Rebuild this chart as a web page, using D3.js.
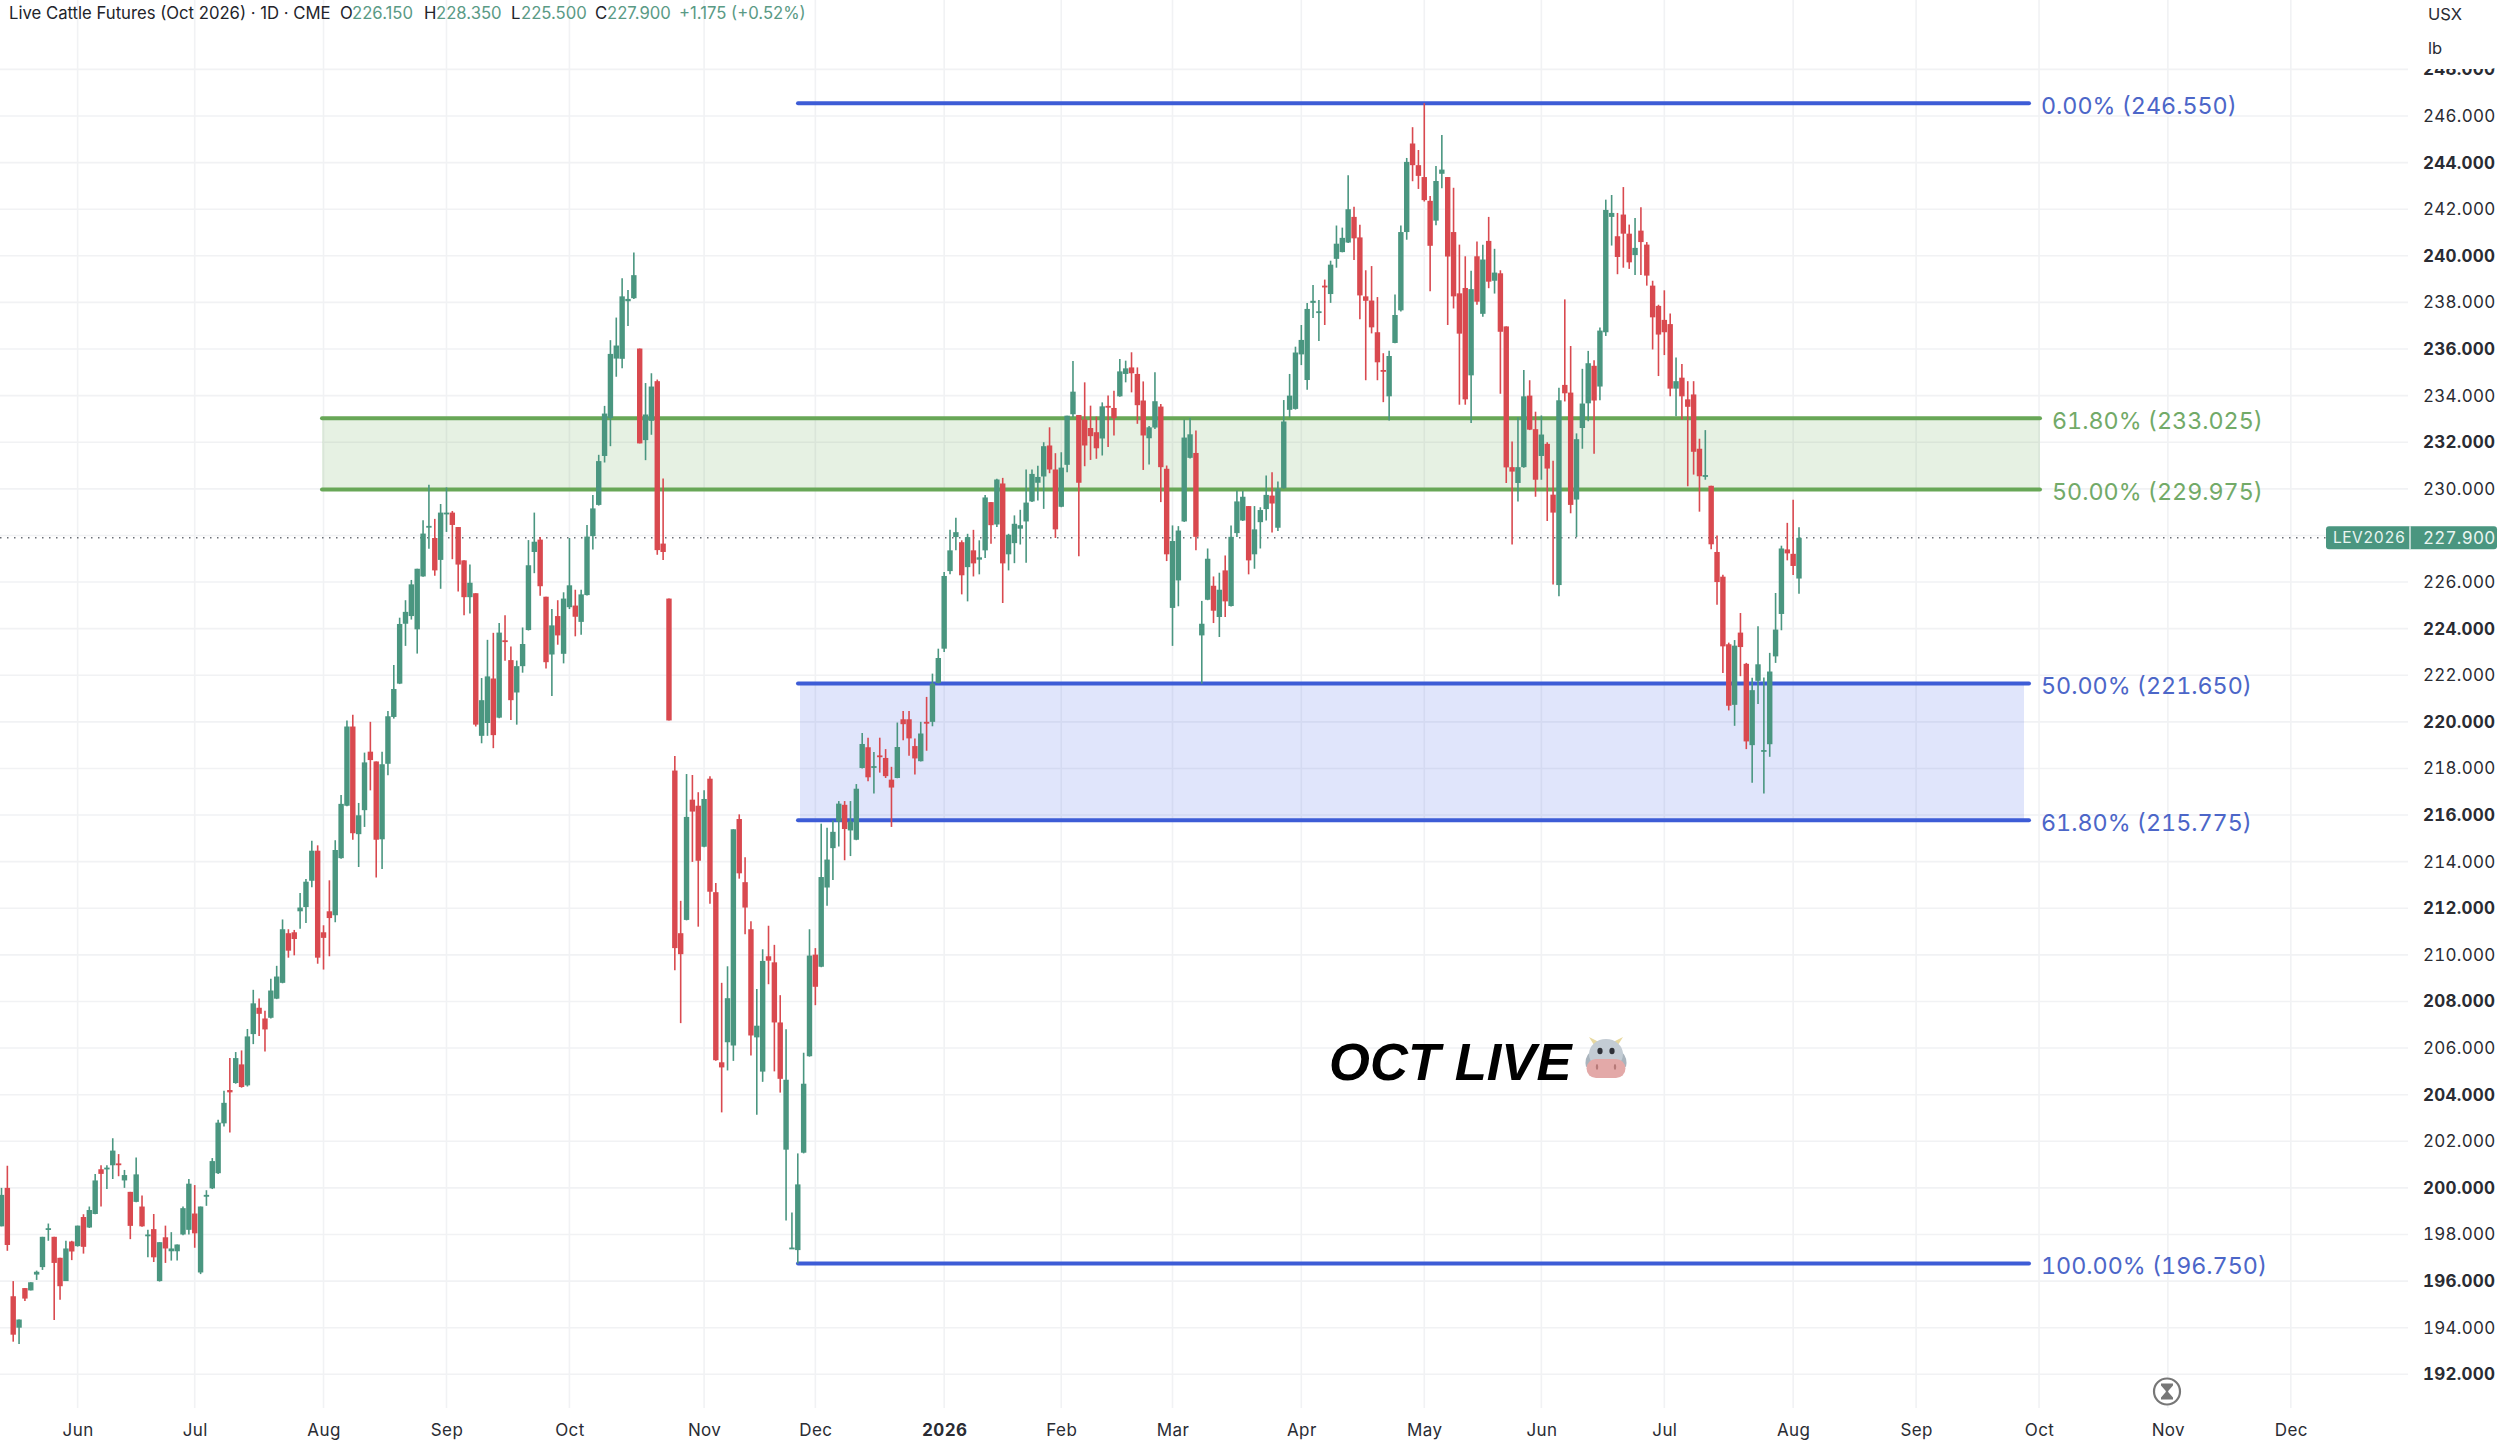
<!DOCTYPE html>
<html>
	<head>
		<meta charset="utf-8">
		<title>Live Cattle Futures (Oct 2026)</title>
		<script src="https://d3js.org/d3.v7.min.js"></script>
		<style>
			html, body { margin: 0; background: #fff; }
			svg { display: block; font-family: Inter, "Noto Sans", sans-serif; font-variant-numeric: tabular-nums; }
			.grid line { stroke: #f1f2f4; stroke-width: 1.6px; }
			.axis text { fill: #2a2c33; }
			.head { font-variant-numeric: normal; }
		</style>
	</head>
	<body>
		<svg width="2500" height="1441"></svg>

		<script type="text/javascript">
			// daily candles, oldest first
			var opens = [
				198.35,200,195.35,194,195.7,195.6,196.28,196.6,198.2,197.9,
				197,196,197.7,197.5,198.75,198.3,198.88,200.8,200.83,200.97,
				201.05,200.32,199.83,199.4,199.2,197.93,198.23,196,197.88,197.28,
				197.28,198,198.2,198.9,196.37,199.62,199.98,200.63,202.77,204.2,
				204.5,205.3,204.4,206.6,207.73,207.27,207.3,208.12,208.8,210.93,
				210.97,211.87,212.05,213.18,214.47,210.97,211.87,211.7,214.15,216.4,
				219.8,215.18,216.21,218.72,218.3,214.96,218.2,220.21,221.64,224.21,
				224.54,223.97,226.24,228.38,227.89,226.95,228.93,228.98,228.36,226.93,
				225.35,225.52,219.4,219.95,221.86,220.18,223.5,222.65,221.26,222.39,
				223.94,227.29,227.82,225.37,222.89,224.54,222.92,224.92,224.99,224.29,
				225.44,227.97,229.31,231.41,233.04,235.59,235.58,238.05,238.18,236.02,
				232.09,232.92,234.62,227.65,225.29,217.91,210.93,211.5,216.66,216.4,
				214.64,217.56,212.69,205.39,206.25,206.11,215.83,213.12,211.1,206.46,
				204.99,209.94,209.68,207.1,201.64,197.39,197.33,201.51,205.65,210.01,
				209.49,212.89,214.58,215.72,216.44,215.34,214.94,218.02,218.91,218.07,
				218.56,218.45,217.52,217.59,220.11,220.11,218.96,218.31,220,220,
				221.67,223.14,226.47,227.93,227.71,226.64,227.36,226.96,227.36,229.43,
				228.47,230.23,227.19,227.67,228.29,228.6,229.46,230.26,230.53,231.86,
				230.83,229.23,231.03,233.2,233.17,232.97,232.61,232.43,232.16,233.56,
				233.47,233.97,234.93,235.21,234.93,233.79,232.17,232.63,233.53,230.86,
				224.89,226.07,228.6,231.33,231.54,223.71,225.24,225.84,224.5,226.5,
				224.97,228.1,228.64,229.26,227.19,228.57,229.13,229.71,228.33,230.03,
				233.39,233.43,235.77,234.67,237.98,237.59,238.72,238.36,239.87,240.16,
				240.57,241.67,240.79,238.26,238.08,236.72,235.1,233.97,236.26,237.66,
				241.02,244.82,243.89,243.38,242.36,241.51,243.52,243.38,241.02,238.39,
				238.62,234.87,239.98,237.51,240.64,238.93,239.25,236.97,230.93,230.25,
				230.93,234,232.56,231.41,231.93,229.75,225.87,234.46,234.13,229.54,
				232.61,233.67,235.28,234.39,236.72,241.67,240.84,241.77,240.95,240.03,
				241.08,240.48,238.72,237.85,237.25,237.07,234.3,234.77,233.84,234.05,
				231.72,230.56,230.13,227.29,226.23,223.33,220.73,223.83,222.49,219,
				221.76,218.76,219.04,222.81,224.63,227.4,227.21,226.15
			];
			var highs = [
				200,200.95,196,194.35,195.7,195.95,196.45,197.9,198.47,197.9,
				197,197.73,197.73,198.38,198.87,199.2,200.6,200.97,200.97,202.13,
				201.45,200.77,199.83,201.3,199.67,198.2,198.88,197.67,198.38,198.1,
				197.57,199.2,200.38,200.12,199.2,199.9,201.28,202.92,204.17,205.57,
				205.83,205.9,206.82,208.5,208.13,207.6,208.97,209.53,211.52,211.1,
				211.07,212.65,213.26,214.9,214.7,211.27,213.2,214.92,216.86,220.06,
				220.3,216.52,218.68,220,218.3,218.72,220.47,222.44,224.47,225.22,
				226.09,226.57,228.65,230.18,228.71,229.35,230.06,229.05,228.36,226.93,
				226.75,225.52,221.88,223.52,223.82,224.24,224.57,223.23,222.63,224.05,
				227.8,228.98,227.93,225.37,224.84,225.22,225.56,227.89,225.67,225.67,
				228.45,229.73,231.46,233.56,236.38,237.35,239.04,238.53,240.14,236.02,
				234.54,234.96,234.69,230.44,225.29,218.53,212.32,217.76,217.72,216.98,
				217.06,217.67,213.08,208.8,209.51,215.39,216.03,214.19,211.44,208.53,
				210.24,211.25,210.43,208.27,206.81,198.94,201.48,205.8,211.1,210.29,
				215.63,215.45,215.77,216.6,216.6,216.6,217.33,219.52,219.32,218.71,
				219.32,218.83,218.07,219.97,220.47,220.47,219.29,220,221.07,222.07,
				223.14,226.43,228.24,228.76,227.79,228.07,228.24,227.79,229.74,229.43,
				230.43,230.47,228.07,228.86,229.1,230.83,230.83,230.99,232,232.64,
				231.53,231.57,233.14,235.49,233.17,234.57,233.57,233.1,233.71,234,
				234.21,235.57,235.5,235.86,235.21,234.61,232.7,235,233.64,231,
				228.43,228.4,232.97,233.04,232.5,225.19,227.44,226.24,226.4,227.14,
				228.43,229.93,229.91,229.26,229.26,229.21,230.57,230.71,230.31,233.81,
				234.93,236.1,237.03,237.97,238.75,238.1,238.98,239.79,241.3,241.21,
				243.46,242.11,241.33,239.38,239.56,238.23,235.82,235.93,238.34,241.3,
				244.2,245.52,244.54,246.55,242.57,243.85,245.18,243.38,242.92,240.48,
				239.98,239.36,240.61,240.48,241.67,240.3,239.38,236.97,232.03,233.07,
				235.1,234.66,233.31,233.15,232,231.2,234.34,238.13,236.13,232.38,
				235.15,235.92,235.52,236.92,242.41,242.61,241.84,242.95,241.34,241.62,
				242.08,240.59,238.93,237.9,238.52,237.52,235.64,235.36,234.62,234.62,
				232.15,232.52,230.13,228,226.31,223.4,223.51,224.67,222.53,221.89,
				224.1,221.9,222.96,225.53,227.56,228.54,229.53,228.35
			];
			var lows = [
				198.35,197.3,193.4,193.3,195.15,195.6,196.05,196.48,197.73,194.33,
				195.2,196,196.9,197.48,197.18,198.28,198.87,199.2,199.95,200.38,
				200.5,200,197.8,199.38,198.33,197.02,196.82,195.98,196.78,196.88,
				196.88,197.97,198,197.43,196.3,199.23,199.95,200.6,202.63,202.38,
				204.47,204.3,204.35,206.17,206.52,205.85,207.27,208.1,208.78,209.88,
				209.98,211.12,211.37,212.9,209.62,209.37,209.94,211.4,214.13,216.38,
				214.94,213.77,215.49,217.06,213.32,213.68,217.71,220.14,221.62,223.26,
				224.39,222.93,226.23,227.43,226.27,225.71,228.15,226.98,225.59,224.57,
				224.65,219.8,219.08,219.4,218.87,220.15,222.62,220.08,219.88,222.11,
				223.92,226.38,225.41,222.29,221.11,223.31,222.51,224.84,223.67,223.74,
				225.42,227.4,229.28,231.13,231.83,234.81,235.17,236.99,238.15,231.95,
				231.23,232.32,227.17,226.95,220.06,209.34,207.07,211.48,213.99,211.21,
				214.62,212.19,205.46,203.24,205.04,205.45,213.27,210.89,205.68,203.14,
				204.55,208.74,205,204.09,198.6,197.38,196.75,201.48,205.63,207.84,
				209.47,212.11,213.21,214.65,214.06,214.24,214.92,218,217.45,216.93,
				217.82,217.59,215.49,217.58,219.21,218.54,217.74,218.3,218.76,219.81,
				221.65,223,226.33,227.36,225.47,225.17,226.24,226.33,227.03,227.64,
				228.36,225.1,226.5,226.81,227.61,226.83,229.43,229.5,229.14,230.67,
				227.89,229.21,230.71,233.07,227.11,230.97,231.24,231.29,231.43,231.79,
				232.29,233.95,234.57,234.14,232.79,230.81,231.04,232.57,229.43,226.9,
				223.26,224.96,228.58,231.3,227.36,221.64,225.22,224.24,223.64,224.5,
				224.95,227.93,228.62,226.33,226.57,227.44,228.64,228.13,228.19,230,
				233.07,233.4,235.31,234.25,237.33,236.34,237.03,237.98,239.49,240.15,
				240.55,239.82,237.28,234.66,236.67,234.66,233.72,232.93,236.25,237.61,
				240.69,243.2,242.87,242.33,238.48,241.31,242.9,237.03,237.74,233.61,
				233.61,232.82,237.9,237.39,238.61,238.38,234.08,230.25,227.61,229.46,
				230.9,232.52,229.66,230.39,228.62,225.89,225.39,233.75,228.95,227.93,
				231.72,232.9,231.51,233.8,236.56,240.44,239.21,239.49,239.44,239.18,
				239.18,238.72,235.98,234.84,235.74,233.97,233.11,232.98,230.11,230.61,
				229.02,230.39,227.41,225.03,222.1,220.49,219.83,221.96,218.83,217.39,
				220.77,216.93,218.5,222.53,223.93,226.93,226.3,225.5
			];
			var closes = [
				199.7,197.55,193.7,194.35,195.25,195.95,196.4,197.9,198.27,196.78,
				195.78,197.4,197.27,198.38,197.47,199.05,200.32,200.6,200.87,201.6,
				201,200.55,198.37,200.58,198.35,198,197.02,197.67,197.4,197.4,
				197.57,199.13,200.18,198.05,199.2,199.7,201.15,202.8,203.65,204.1,
				205.57,204.33,206.5,207.92,207.47,206.8,208.47,209.07,211.1,210.18,
				210.68,212.03,213.14,214.47,209.88,210.73,211.58,214.5,216.48,219.8,
				215.22,215.99,218.26,218.36,214.94,218.18,220.24,221.41,224.2,224.72,
				225.9,226.57,228.08,228.41,226.5,228.98,228.98,228.45,226.75,225.35,
				225.97,219.88,220.93,221.95,219.43,223.83,223.48,220.93,222.39,223.34,
				226.72,227.73,225.82,222.56,224.14,223.71,225.29,225.86,224.51,225.47,
				227.95,229.16,231.19,233.23,235.79,236.15,238.26,238.15,239.17,231.95,
				233.19,234.39,227.37,227.29,220.06,210.29,210.03,215.92,216.15,214.04,
				216.69,212.71,205.48,205.17,208.14,215.39,213.5,212.03,206.54,206.96,
				209.74,209.75,207.1,204.68,204.64,197.44,200.15,204.47,209.97,208.63,
				213.34,214.09,215.28,216.49,215.4,215.72,217.13,219.05,217.62,218.1,
				218.51,217.67,217.18,218.92,219.9,219.29,218.43,219.5,219.94,221.64,
				222.74,226.26,227.36,228.14,226.29,227.93,226.8,227.06,229.63,228.44,
				230.4,226.8,228.03,228.5,228.44,229.41,230.64,230.51,231.83,230.83,
				228.26,230.91,233.14,234.17,230.26,231.86,232.26,231.74,233.54,233.53,
				233.03,235.04,235.17,234.96,233.59,232.29,232.64,233.76,230.93,227.19,
				227.76,228.21,232.2,232.34,227.94,224.21,227,224.77,225.67,225.17,
				227.94,229.46,229.66,226.93,228.26,229.09,229.74,229.37,230,232.89,
				234,235.85,236.39,237.72,238.07,237.62,238.69,239.62,240.52,240.77,
				242,240.75,238.3,238.07,236.93,235.43,235.03,235.7,237.46,241.02,
				244.03,243.89,243.43,242.39,240.43,243.21,243.7,239.97,238.26,236.66,
				233.84,238.57,238.03,239.84,238.89,239.28,236.74,230.92,230.74,230.93,
				233.97,232.54,230.39,232.33,230.87,228.98,233.8,234.1,229.31,232.13,
				233.66,235.39,233.79,236.79,241.97,241.84,239.95,240.95,239.72,240.34,
				240.59,239.15,237.36,236.62,236.72,234.3,234.62,233.97,233.52,231.59,
				230.54,230.59,227.62,226,223.24,220.69,223.27,223.21,219.16,221.36,
				222.47,218.79,222.16,223.96,227.44,227.23,226.69,227.9
			];

			// x axis: trading-day number where each month starts
			var monthIndex = [13, 33, 55, 76, 97, 120, 139, 161, 181, 200, 222, 243, 263, 284, 306, 327, 348, 370, 391];
			var monthLabels = ["Jun", "Jul", "Aug", "Sep", "Oct", "Nov", "Dec", "2026", "Feb", "Mar", "Apr", "May", "Jun", "Jul", "Aug", "Sep", "Oct", "Nov", "Dec"];

			// price axis, 228 has no label because the last price tag sits there
			var priceTicks = d3.range(192, 249, 2);
			var priceLabels = priceTicks.filter(function(d) { return d != 228; });

			// fib drawings
			var blueLevels = [246.55, 221.65, 215.775, 196.75];
			var blueLabels = ["0.00% (246.550)", "50.00% (221.650)", "61.80% (215.775)", "100.00% (196.750)"];
			var greenLevels = [233.025, 229.975];
			var greenLabels = ["61.80% (233.025)", "50.00% (229.975)"];
			var blueZone = [221.65, 215.775];
			var greenZone = [233.025, 229.975];

			var lastPrice = 227.9;

			var up = "#4a9680", down = "#d9494f", blue = "#3d5cd6", green = "#68a757";
			var blueText = "#4c66c8", greenText = "#72aa68";

			var svg = d3.select("svg");

			var x = d3.scaleLinear().domain([0, 307]).range([1.5, 1799]);
			var y = d3.scaleLinear().domain([246, 192]).range([116, 1374.3]);

			// gridlines
			var grid = svg.append("g").attr("class", "grid");
			grid.selectAll(".h").data(priceTicks).enter().append("line").attr("class", "h")
				.attr("x1", 0).attr("x2", 2408)
				.attr("y1", function(d) { return y(d); })
				.attr("y2", function(d) { return y(d); });
			grid.selectAll(".v").data(monthIndex).enter().append("line").attr("class", "v")
				.attr("y1", 0).attr("y2", 1408)
				.attr("x1", function(d) { return x(d); })
				.attr("x2", function(d) { return x(d); });

			// zones
			svg.append("rect")
				.attr("x", 322).attr("width", 1718)
				.attr("y", y(greenZone[0])).attr("height", y(greenZone[1]) - y(greenZone[0]))
				.attr("fill", "#4f9f3c").attr("fill-opacity", 0.14);
			svg.append("rect")
				.attr("x", 800).attr("width", 1224)
				.attr("y", y(blueZone[0])).attr("height", y(blueZone[1]) - y(blueZone[0]))
				.attr("fill", "#3f5ce8").attr("fill-opacity", 0.16);

			// last price dotted line
			svg.append("line")
				.attr("x1", 0).attr("x2", 2326)
				.attr("y1", y(lastPrice)).attr("y2", y(lastPrice))
				.attr("stroke", "#6b6f76").attr("stroke-width", 1.4)
				.attr("stroke-dasharray", "1.5 5.5");

			function drawLevels(levels, labels, x1, x2, labelX, lineColor, textColor) {
				svg.selectAll(null).data(levels).enter().append("line")
					.attr("x1", x1).attr("x2", x2)
					.attr("y1", function(d) { return y(d); })
					.attr("y2", function(d) { return y(d); })
					.attr("stroke", lineColor).attr("stroke-width", 4)
					.attr("stroke-linecap", "round");
				svg.selectAll(null).data(levels).enter().append("text")
					.attr("x", labelX)
					.attr("y", function(d) { return y(d) + 2.5; })
					.attr("dy", "0.35em")
					.attr("font-size", 23.3)
					.attr("fill", textColor)
					.text(function(d, i) { return labels[i]; });
			}
			drawLevels(greenLevels, greenLabels, 322, 2040, 2052, green, greenText);
			drawLevels(blueLevels, blueLabels, 798, 2029, 2041, blue, blueText);

			// candles
			var candles = svg.append("g").selectAll("g").data(opens).enter().append("g")
				.attr("fill", function(d, i) { return closes[i] >= d ? up : down; })
				.attr("stroke", function(d, i) { return closes[i] >= d ? up : down; });
			candles.append("line")
				.attr("x1", function(d, i) { return x(i); })
				.attr("x2", function(d, i) { return x(i); })
				.attr("y1", function(d, i) { return y(highs[i]); })
				.attr("y2", function(d, i) { return y(lows[i]); })
				.attr("stroke-width", 1.6);
			candles.append("rect")
				.attr("stroke", "none")
				.attr("x", function(d, i) { return x(i) - 2.7; })
				.attr("width", 5.4)
				.attr("y", function(d, i) { return y(Math.max(d, closes[i])); })
				.attr("height", function(d, i) { return Math.max(1.8, Math.abs(y(d) - y(closes[i]))); });

			// price axis
			var yAxis = d3.axisRight(y).tickValues(priceLabels).tickSize(0).tickFormat(d3.format(".3f"));
			var yG = svg.append("g").attr("class", "axis")
				.attr("transform", "translate(2423,0)")
				.call(yAxis);
			yG.select(".domain").remove();
			yG.selectAll("text")
				.attr("x", 0)
				.attr("font-family", "Inter, sans-serif")
				.attr("font-size", 17)
				.attr("letter-spacing", 0.25)
				.attr("font-weight", function(d) { return d % 4 == 0 ? 700 : 400; });

			// month axis
			var xAxis = d3.axisBottom(x).tickValues(monthIndex).tickSize(0)
				.tickFormat(function(d, i) { return monthLabels[i]; });
			var xG = svg.append("g").attr("class", "axis")
				.attr("transform", "translate(0,1424)")
				.call(xAxis);
			xG.select(".domain").remove();
			xG.selectAll("text")
				.attr("y", 0)
				.attr("font-family", "Inter, sans-serif")
				.attr("font-size", 17)
				.attr("letter-spacing", 0.4)
				.attr("font-weight", function(d, i) { return monthLabels[i] == "2026" ? 700 : 400; });

			// unit box over the top of the price scale
			svg.append("rect")
				.attr("x", 2416).attr("y", -10).attr("width", 81).attr("height", 79).attr("rx", 6)
				.attr("fill", "#fff");
			svg.append("text").attr("x", 2428).attr("y", 20).attr("font-size", 16.5).attr("fill", "#2a2c33").text("USX");
			svg.append("text").attr("x", 2428).attr("y", 54).attr("font-size", 16.5).attr("fill", "#2a2c33").text("lb");

			// last price tag
			svg.append("rect").attr("x", 2326).attr("y", y(lastPrice) - 11.5).attr("width", 171).attr("height", 23).attr("rx", 3).attr("fill", "#4a9680");
			svg.append("line").attr("x1", 2410).attr("x2", 2410).attr("y1", y(lastPrice) - 11.5).attr("y2", y(lastPrice) + 11.5).attr("stroke", "#fff").attr("stroke-width", 1.2);
			svg.append("text").attr("x", 2333).attr("y", y(lastPrice)).attr("dy", "0.35em").attr("font-size", 15.5).attr("letter-spacing", 0.5).attr("fill", "#eaf5f1").text("LEV2026");
			svg.append("text").attr("x", 2423).attr("y", y(lastPrice)).attr("dy", "0.35em").attr("font-size", 17).attr("letter-spacing", 0.25).attr("fill", "#eaf5f1").text(d3.format(".3f")(lastPrice));

			// header line
			var headerParts = [
				{ x: 9, text: "Live Cattle Futures (Oct 2026) · 1D · CME", fill: "#22242a" },
				{ x: 340, text: "O", fill: "#22242a" }, { x: 352, text: "226.150", fill: "#5a9a85" },
				{ x: 424, text: "H", fill: "#22242a" }, { x: 436, text: "228.350", fill: "#5a9a85" },
				{ x: 511, text: "L", fill: "#22242a" }, { x: 521, text: "225.500", fill: "#5a9a85" },
				{ x: 595, text: "C", fill: "#22242a" }, { x: 607, text: "227.900", fill: "#5a9a85" },
				{ x: 679, text: "+1.175 (+0.52%)", fill: "#5a9a85" }
			];
			svg.selectAll(".head").data(headerParts).enter().append("text")
				.attr("class", "head")
				.attr("x", function(d) { return d.x; })
				.attr("y", 19)
				.attr("font-size", 16.7)
				.attr("fill", function(d) { return d.fill; })
				.text(function(d) { return d.text; });

			// OCT LIVE note and the cow next to it
			svg.append("text")
				.attr("x", 1329).attr("y", 1080)
				.attr("font-family", "'Liberation Sans', Arial, sans-serif")
				.attr("font-size", 52.6).attr("font-weight", 700).attr("font-style", "italic")
				.attr("fill", "#000")
				.text("OCT LIVE");
			var cow = svg.append("g").attr("transform", "translate(1606,1058)");
			cow.append("path").attr("d", "M-12,-13 L-17,-21 L-7,-16 Z M12,-13 L17,-21 L7,-16 Z").attr("fill", "#e8d9a0");
			cow.append("path").attr("d", "M-16,-6 Q-22,0 -20,9 L-12,6 Z M16,-6 Q22,0 20,9 L12,6 Z").attr("fill", "#a9b4bd");
			cow.append("ellipse").attr("cx", 0).attr("cy", -4).attr("rx", 17).attr("ry", 15).attr("fill", "#c3ccd4");
			cow.append("ellipse").attr("cx", -6).attr("cy", -7).attr("rx", 2.6).attr("ry", 3.2).attr("fill", "#2e3138");
			cow.append("ellipse").attr("cx", 6).attr("cy", -7).attr("rx", 2.6).attr("ry", 3.2).attr("fill", "#2e3138");
			cow.append("rect").attr("x", -19.5).attr("y", 1).attr("width", 39).attr("height", 19).attr("rx", 9.5).attr("fill", "#e3a9a8");
			cow.append("ellipse").attr("cx", -9).attr("cy", 9).attr("rx", 1.2).attr("ry", 3).attr("fill", "#b67a78");
			cow.append("ellipse").attr("cx", 9).attr("cy", 9).attr("rx", 1.2).attr("ry", 3).attr("fill", "#b67a78");

			// hourglass badge
			var badge = svg.append("g").attr("transform", "translate(2167,1391.5)");
			badge.append("circle").attr("r", 13).attr("fill", "#fff").attr("stroke", "#777").attr("stroke-width", 2.2);
			badge.append("path").attr("d", "M-6,-8 H6 V-6 L1.2,-0.5 V0.5 L6,6 V8 H-6 V6 L-1.2,0.5 V-0.5 L-6,-6 Z").attr("fill", "#777");
		</script>
	</body>
</html>
